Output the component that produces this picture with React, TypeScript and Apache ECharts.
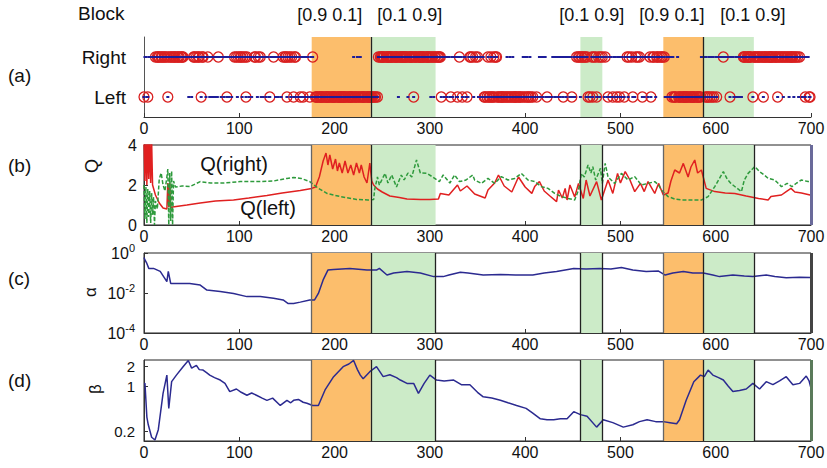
import React, { useEffect, useRef } from 'react';
import * as echarts from 'echarts';

// ---------- data ----------
const blockStart = [176, 238, 458, 545, 587];
const blockEnd = [238, 306, 481, 587, 640];
const blockProb = ['[0.9 0.1]', '[0.1 0.9]', '[0.1 0.9]', '[0.9 0.1]', '[0.1 0.9]'];
const blockLabelX = [195, 279, 470, 554, 639];
const rowNames = ['Left', 'Right'];

// one char per trial: R/r = right chosen (rewarded/unrewarded), L/l = left chosen
const choiceRows = [
  'LrrlLrrrrr' + 'rrRrRRRrRR' + 'rRRrRLRrRR' + 'rRRRrRRRrR' + 'RRrrrrrlrr',
  'lrRRrRrRRr' + 'LRRrrlrRrl' + 'rlrlrlrlRr' + 'rlrrlrrLrl' + 'rrlrrRrRlR',
  'rRRlRrRLRr' + 'lrrlrrRRrl' + 'RrRlrlrrlr' + 'rlLrrrRrlr' + 'rlrrlrRrRR',
  'LRrRlRrLRR' + 'lrlrLlrLrl' + 'rlrlLrlRll' + 'LLLlLLLLLl' + 'LLLLLLlLLL',
  'LLlLLLLLLL' + 'LLLlLLLLLL' + 'rLLLrLLrLL' + 'LLLlLLLLLL' + 'LlLLlLRrRR',
  'RRRrRRRRRR' + 'RRrRRRRlRR' + 'RRRRRRRlRR' + 'RRRLRRRrRR' + 'RRRRRrRRRR',
  'RlRRlRRrRR' + 'RRLrrlrrlr' + 'rlLrlrrrlL' + 'rRrrLlrrlL' + 'lrRRrRlrRr',
  'RlrlrlrLLl' + 'LRLLRLLRLR' + 'RLLlLLLLlL' + 'LrLLrLLrLL' + 'LLlLLLlLrL',
  'rLrLLrLlLl' + 'llLllrlrrl' + 'rrlLlllllr' + 'rlrrlrrlrr' + 'LrrlrrrlrL',
  'lrlrRrRRlR' + 'RrRRlRLlLl' + 'RLRrRLrRlR' + 'rRrlRrlLrl' + 'rlLrrlLrlL',
  'rlrlLrrRlR' + 'rrRLrlRrRr' + 'RrrLrlrrrl' + 'rRLrRRrlRR' + 'rRrRRrRllr',
  'lrlrLrLLLl' + 'rLLLlLLLLL' + 'LLlLLLLLLl' + 'LLLLLrlrrL' + 'rLLrLrLrLl',
  'rLrrrrrrRr' + 'rrrrrLrrrl' + 'lrlrlrrlrR' + 'RRrRRRRRrL' + 'RRRrRRRrRR',
  'LRRRrRRRRR' + 'RrRRRLRRrR' + 'RlRRrRRlRR' + 'RRlRRrRlRr' + 'rlrrLrrrLL',
];

const qLeft = [
  [0, 4.2], [1, 2.2], [2, 4.5], [3, 2.0], [4, 4.5], [5, 2.3], [6, 4.5], [7, 2.1], [8, 4.2], [9, 2.0],
  [12, 1.5], [16, 1.1], [20, 0.85], [24, 0.8], [25, 2.1], [26, 0.9], [27, 2.1], [28, 0.85], [30, 0.9],
  [45, 1.0], [59, 1.1], [75, 1.2], [94, 1.25], [110, 1.35], [129, 1.48], [145, 1.6], [164, 1.72],
  [176, 1.83], [180, 1.9], [184, 2.4], [188, 3.2], [191, 3.6], [193, 3.0], [195, 3.5], [198, 2.8],
  [201, 3.3], [203, 2.7], [205, 3.1], [208, 2.6], [211, 3.2], [214, 2.6], [217, 3.0], [220, 2.5],
  [223, 3.1], [226, 2.6], [228, 3.0], [231, 2.4], [234, 2.1], [237, 3.1], [239, 2.2], [241, 2.0],
  [245, 1.8], [250, 1.65], [258, 1.45], [268, 1.38], [276, 1.3], [290, 1.27], [300, 1.27], [309, 1.3],
  [311, 1.58], [320, 1.5], [329, 2.0], [332, 1.7], [339, 1.95], [347, 1.55], [358, 1.35], [361, 1.75],
  [368, 2.1], [372, 2.5], [378, 1.95], [382, 1.8], [386, 1.65], [393, 2.4], [400, 1.9], [407, 1.58],
  [410, 1.92], [415, 2.17], [420, 1.7], [426, 1.45], [433, 1.17], [435, 1.75], [439, 1.35], [442, 1.83],
  [444, 1.25], [447, 2.0], [452, 1.4], [456, 2.08], [461, 1.33], [464, 2.25], [468, 1.45], [475, 2.17],
  [480, 1.25], [487, 2.25], [492, 1.58], [497, 2.58], [500, 2.1], [505, 2.67], [510, 2.25], [515, 1.67],
  [521, 2.08], [525, 1.67], [529, 2.17], [536, 1.58], [540, 2.08], [545, 1.5], [550, 1.6], [553, 2.2],
  [557, 2.75], [562, 2.6], [566, 3.08], [571, 2.4], [574, 2.9], [578, 3.25], [581, 2.6], [585, 2.75],
  [590, 1.83], [599, 1.67], [610, 1.6], [620, 1.58], [632, 1.45], [645, 1.33], [655, 1.25], [658, 1.42],
  [669, 1.5], [674, 1.67], [679, 1.83], [683, 1.65], [690, 1.6], [699, 1.5],
];

const qRight = [
  [0, 2.0], [1, 0.3], [2, 1.9], [3, 0.1], [4, 1.8], [5, 0.4], [6, 1.7], [7, 0.1], [8, 1.6], [9, 0.5],
  [10, 1.4], [11, 0.0], [12, 1.2], [14, 0.8], [16, 2.3], [18, 2.6], [20, 2.0], [22, 1.7], [24, 2.4],
  [25, 2.8], [26, 0.0], [27, 2.6], [28, 0.2], [29, 2.7], [30, 0.0], [31, 2.2], [33, 1.9], [40, 1.95],
  [48, 1.92], [59, 2.17], [70, 2.1], [83, 2.1], [101, 2.17], [118, 2.17], [136, 2.2], [150, 2.33],
  [157, 2.38], [165, 2.33], [174, 2.17], [183, 1.83], [192, 1.58], [206, 1.42], [223, 1.28], [235, 1.25],
  [241, 1.27], [242, 1.75], [245, 2.4], [247, 2.0], [250, 2.3], [253, 2.58], [256, 2.1], [260, 2.5],
  [265, 1.9], [270, 2.5], [273, 2.25], [277, 2.6], [281, 2.4], [286, 3.25], [290, 2.6], [297, 2.58],
  [303, 2.4], [310, 2.17], [314, 2.5], [321, 2.1], [326, 2.5], [331, 2.17], [338, 2.25], [345, 2.5],
  [347, 2.25], [354, 2.08], [361, 2.33], [368, 2.08], [375, 2.42], [382, 2.25], [389, 2.33], [396, 2.58],
  [403, 2.25], [410, 2.17], [417, 1.92], [424, 1.83], [431, 1.58], [438, 1.42], [445, 1.33], [452, 1.25],
  [456, 1.75], [459, 2.58], [462, 2.4], [466, 3.0], [469, 2.6], [471, 2.92], [474, 2.25], [479, 2.83],
  [481, 2.08], [484, 3.08], [487, 2.4], [494, 2.08], [501, 2.58], [508, 2.25], [515, 2.42], [522, 2.0],
  [529, 2.08], [536, 2.17], [540, 2.0], [543, 1.75], [550, 1.42], [557, 1.3], [564, 1.25], [575, 1.25],
  [585, 1.25], [592, 1.42], [599, 1.92], [608, 2.67], [612, 2.3], [616, 2.08], [622, 1.85], [627, 1.67],
  [630, 2.25], [634, 2.58], [641, 2.92], [646, 2.67], [651, 2.5], [655, 2.33], [662, 2.25], [669, 1.92],
  [675, 2.08], [680, 1.92], [685, 2.1], [690, 2.25], [697, 2.17], [700, 2.2],
];

const alphaPts = [
  [0, 0.6], [1, 0.45], [3, 0.3], [5, 0.17], [10, 0.17], [17, 0.12], [24, 0.037], [25.5, 0.12], [28, 0.03],
  [34, 0.03], [48, 0.03], [59, 0.025], [66, 0.014], [80, 0.012], [94, 0.0095], [108, 0.0066], [122, 0.0066],
  [136, 0.0054], [146, 0.0045], [151, 0.003], [157, 0.003], [164, 0.0035], [174, 0.0045], [179, 0.0045],
  [183, 0.0095], [188, 0.045], [193, 0.14], [199, 0.15], [216, 0.17], [234, 0.14], [244, 0.14], [247, 0.17],
  [255, 0.079], [262, 0.1], [276, 0.12], [290, 0.1], [304, 0.066], [314, 0.066], [320, 0.079], [332, 0.11],
  [340, 0.1], [356, 0.079], [374, 0.085], [390, 0.079], [408, 0.079], [420, 0.1], [433, 0.12], [451, 0.17],
  [464, 0.16], [478, 0.17], [490, 0.16], [501, 0.19], [513, 0.14], [527, 0.12], [540, 0.125], [547, 0.079],
  [555, 0.1], [566, 0.12], [576, 0.1], [587, 0.1], [597, 0.079], [604, 0.066], [618, 0.079], [630, 0.07],
  [639, 0.066], [653, 0.079], [662, 0.066], [674, 0.058], [688, 0.062], [699, 0.06],
];

const betaPts = [
  [0, 1.1], [1, 1.1], [2, 0.6], [3, 0.33], [4.5, 0.25], [8, 0.16], [11.5, 0.145], [15, 0.21], [20, 0.77],
  [24, 1.48], [26, 0.45], [29, 1.17], [34, 1.48], [41, 2.0], [46.5, 2.5], [50, 1.9], [55, 2.1], [58, 1.8],
  [62, 1.77], [66, 1.6], [69, 1.48], [74, 1.35], [80, 1.24], [85, 1.1], [90, 0.82], [97, 0.9], [102, 0.8],
  [108, 0.72], [113, 0.78], [118, 0.72], [124, 0.65], [129, 0.6], [135, 0.65], [143, 0.5], [150, 0.6],
  [154, 0.55], [157, 0.6], [162, 0.62], [167, 0.56], [171, 0.54], [177, 0.5], [183, 0.5], [190, 0.87],
  [199, 1.4], [209, 2.0], [215, 2.2], [220, 2.5], [224, 1.8], [227, 1.48], [230, 1.3], [237, 1.67],
  [244, 2.0], [251, 1.4], [258, 1.5], [265, 1.35], [269, 1.24], [276, 1.1], [283, 1.1], [288, 0.77],
  [294, 1.1], [300, 1.48], [307, 1.24], [315, 1.2], [325, 1.24], [333, 1.05], [342, 1.05], [350, 0.8],
  [356, 0.68], [365, 0.65], [374, 0.6], [382, 0.55], [391, 0.5], [401, 0.45], [408, 0.38], [416, 0.31],
  [423, 0.3], [430, 0.3], [437, 0.31], [444, 0.31], [451, 0.4], [458, 0.36], [465, 0.34], [475, 0.23],
  [482, 0.3], [492, 0.27], [503, 0.23], [513, 0.25], [520, 0.28], [528, 0.3], [537, 0.28], [545, 0.28],
  [552, 0.27], [559, 0.26], [562, 0.3], [569, 0.6], [577, 1.17], [584, 1.48], [588, 1.4], [592, 1.77],
  [597, 1.48], [603, 1.35], [608, 1.24], [613, 1.0], [618, 0.82], [625, 0.85], [632, 0.9], [639, 1.1],
  [646, 0.9], [653, 1.17], [660, 1.05], [667, 1.2], [674, 1.4], [681, 1.05], [688, 1.1], [695, 1.43],
  [698, 1.2], [700, 0.92],
];

const alphaTicks = [1e-4, 1e-2, 1];
const betaTicks = [0.2, 1, 2];
const linesA = [238, 587];
const linesB = [176, 238, 458, 481, 545, 587, 640];
const linesCD = [176, 238, 306, 458, 481, 545, 587, 640];
const qRightLabelAt = [59, 3.05];
const qLeftLabelAt = [101, 0.85];

// ---------- styles ----------
const FONT = 'Liberation Sans, Arial, Helvetica, sans-serif';
const TXT = '#111';
const ORANGE = '#FCBE6C';
const GREEN = '#CCEBC8';
const AXIS = '#333';

const GRID_LEFT = 144;
const GRID_W = 667;
const grids = [
  { top: 37, height: 80 },
  { top: 145, height: 80 },
  { top: 253, height: 80 },
  { top: 360, height: 81 },
];

function blockAreas() {
  return blockStart.map((s, i) => [
    { xAxis: s, itemStyle: { color: blockProb[i] === '[0.9 0.1]' ? ORANGE : GREEN } },
    { xAxis: blockEnd[i] },
  ]);
}

function bgSeries(idx: number, lines: number[], edgeColor: string | null) {
  const ml: any[] = lines.map((v) => ({ xAxis: v, lineStyle: { color: v === 176 || v === 545 ? '#666' : '#222', width: 1.3, type: 'solid' } }));
  if (edgeColor) ml.push({ xAxis: 700, lineStyle: { color: edgeColor, width: 3, type: 'solid' } });
  return {
    type: 'line',
    xAxisIndex: idx,
    yAxisIndex: idx,
    data: [],
    z: 1,
    silent: true,
    markArea: { silent: true, data: blockAreas() },
    markLine: { silent: true, symbol: 'none', label: { show: false }, data: ml },
  };
}

function xAxisFor(idx: number) {
  return {
    gridIndex: idx,
    type: 'value',
    min: 0,
    max: 700,
    interval: 100,
    axisLine: { show: true, onZero: false, lineStyle: { color: AXIS, width: 1 } },
    axisTick: { show: true, inside: true, length: 4, lineStyle: { color: AXIS } },
    axisLabel: { color: TXT, fontSize: 16, fontFamily: FONT, margin: 3, showMinLabel: true, showMaxLabel: true },
    splitLine: { show: false },
  };
}

export default function App() {
  const ref = useRef<HTMLDivElement>(null);
  useEffect(() => {
    if (!ref.current) return;
    const chart = echarts.init(ref.current, null, { renderer: 'svg' });

    const choices = choiceRows.join('');
    const dots: any[] = [];
    const circles: any[] = [];
    for (let i = 0; i < choices.length; i++) {
      const c = choices[i];
      const row = c === 'R' || c === 'r' ? 'Right' : 'Left';
      dots.push([i, row]);
      if (c === 'R' || c === 'L') circles.push([i, row]);
    }

    const option: any = {
      animation: false,
      backgroundColor: '#fff',
      textStyle: { fontFamily: FONT },
      grid: grids.map((g, i) => ({
        left: GRID_LEFT,
        width: GRID_W,
        top: g.top,
        height: g.height,
        show: i > 0,
        borderColor: '#222',
        borderWidth: 1,
        backgroundColor: 'transparent',
        outerBoundsMode: 'none',
        containLabel: false,
      })),
      xAxis: [0, 1, 2, 3].map(xAxisFor),
      yAxis: [
        {
          gridIndex: 0,
          type: 'category',
          data: rowNames,
          axisLine: { show: true, lineStyle: { color: '#555' } },
          axisTick: { show: false },
          axisLabel: { color: TXT, fontSize: 19, fontFamily: FONT, margin: 18 },
          splitLine: { show: false },
        },
        {
          gridIndex: 1,
          type: 'value',
          min: 0,
          max: 4,
          interval: 2,
          axisLine: { show: true, lineStyle: { color: AXIS } },
          axisTick: { show: true, inside: true, length: 4, lineStyle: { color: AXIS } },
          axisLabel: { color: TXT, fontSize: 16, fontFamily: FONT, margin: 7 },
          splitLine: { show: false },
        },
        {
          gridIndex: 2,
          type: 'log',
          logBase: 10,
          min: 1e-4,
          max: 1,
          axisLine: { show: true, lineStyle: { color: AXIS } },
          axisTick: { show: true, inside: true, length: 4, customValues: alphaTicks, lineStyle: { color: AXIS } },
          axisLabel: {
            color: TXT,
            fontFamily: FONT,
            margin: 9,
            customValues: alphaTicks,
            formatter: (v: number) => '{b|10}{s|' + Math.round(Math.log10(v)) + '}',
            rich: {
              b: { fontSize: 16, fontFamily: FONT, color: TXT, lineHeight: 22 },
              s: { fontSize: 11, fontFamily: FONT, color: TXT, verticalAlign: 'top', lineHeight: 11 },
            },
          },
          splitLine: { show: false },
          minorTick: { show: false },
        },
        {
          gridIndex: 3,
          type: 'log',
          logBase: 10,
          min: 0.14,
          max: 2.54,
          axisLine: { show: true, lineStyle: { color: AXIS } },
          axisTick: { show: true, inside: true, length: 4, customValues: betaTicks, lineStyle: { color: AXIS } },
          axisLabel: {
            color: TXT,
            fontSize: 15,
            fontFamily: FONT,
            margin: 9,
            customValues: betaTicks,
            formatter: (v: number) => String(Math.round(v * 10) / 10),
          },
          splitLine: { show: false },
        },
      ],
      series: [
        bgSeries(0, linesA, null),
        {
          type: 'scatter',
          xAxisIndex: 0,
          yAxisIndex: 0,
          data: circles,
          symbol: 'circle',
          symbolSize: 10,
          z: 3,
          itemStyle: { color: 'rgba(0,0,0,0)', borderColor: '#d92020', borderWidth: 1.3, opacity: 1 },
        },
        {
          type: 'scatter',
          xAxisIndex: 0,
          yAxisIndex: 0,
          data: dots,
          symbol: 'rect',
          symbolSize: [3, 2],
          z: 4,
          itemStyle: { color: '#1d1d9a', opacity: 1 },
        },
        bgSeries(1, linesB, '#6a6a9a'),
        {
          type: 'line',
          xAxisIndex: 1,
          yAxisIndex: 1,
          data: qLeft,
          showSymbol: false,
          symbol: 'none',
          z: 3,
          lineStyle: { color: '#e02020', width: 1.5 },
        },
        {
          type: 'line',
          xAxisIndex: 1,
          yAxisIndex: 1,
          data: qRight,
          showSymbol: false,
          symbol: 'none',
          z: 4,
          lineStyle: { color: '#2e9a3c', width: 1.5, type: [4, 2] },
        },
        bgSeries(2, linesCD, '#444'),
        {
          type: 'line',
          xAxisIndex: 2,
          yAxisIndex: 2,
          data: alphaPts,
          showSymbol: false,
          symbol: 'none',
          z: 3,
          lineStyle: { color: '#2b2a90', width: 1.5 },
        },
        bgSeries(3, linesCD, '#5a7a5a'),
        {
          type: 'line',
          xAxisIndex: 3,
          yAxisIndex: 3,
          data: betaPts,
          showSymbol: false,
          symbol: 'none',
          z: 3,
          lineStyle: { color: '#2b2a90', width: 1.5 },
        },
      ],
    };
    chart.setOption(option);

    const gText = (text: string, x: number, y: number, size: number, align = 'left', rot = 0) => ({
      type: 'text',
      x,
      y,
      rotation: rot,
      z: 10,
      style: { text, fill: TXT, font: `${size}px ${FONT}`, align, verticalAlign: 'middle' },
    });

    const graphics: any[] = [
      gText('Block', 78, 13, 19),
      gText('(a)', 8, 75, 19),
      gText('(b)', 8, 165, 19),
      gText('(c)', 8, 278, 19),
      gText('(d)', 8, 380, 19),
      gText('Q', 92, 166, 18, 'center', Math.PI / 2),
      gText('α', 90, 292, 17, 'center', Math.PI / 2),
      gText('β', 95, 389, 17, 'center', Math.PI / 2),
    ];
    blockLabelX.forEach((bx, i) => {
      const px = chart.convertToPixel({ xAxisIndex: 0 }, bx) as number;
      graphics.push(gText(blockProb[i], px, 15, 18, 'center'));
    });
    const pr = chart.convertToPixel({ gridIndex: 1 }, qRightLabelAt) as number[];
    const pl = chart.convertToPixel({ gridIndex: 1 }, qLeftLabelAt) as number[];
    graphics.push(gText('Q(right)', pr[0], pr[1], 20));
    graphics.push(gText('Q(left)', pl[0], pl[1], 20));
    chart.setOption({ graphic: graphics });

    return () => chart.dispose();
  }, []);
  return (
    <div
      ref={ref}
      style={{ position: 'absolute', left: 0, top: 0, width: 827, height: 468, background: '#fff' }}
    />
  );
}
